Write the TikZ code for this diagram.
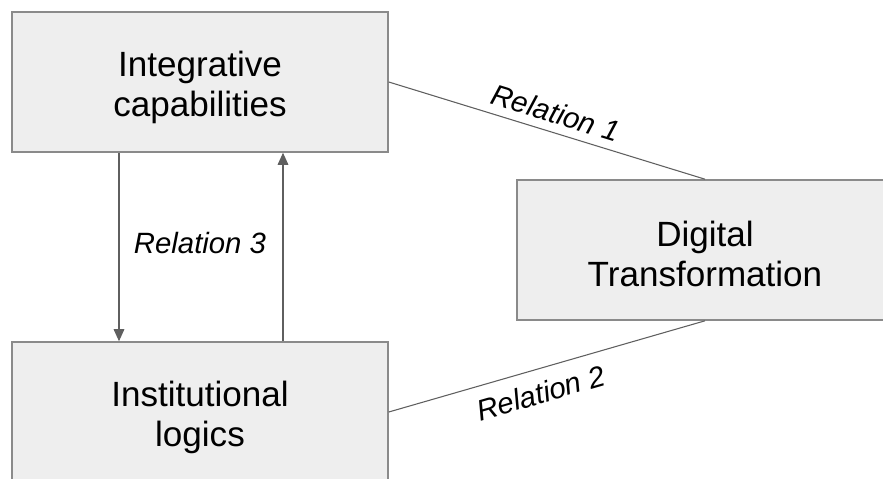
\documentclass[tikz,border=0pt]{standalone}
\usepackage{fontspec}
\setmainfont{Liberation Sans}
\usetikzlibrary{arrows.meta}

\definecolor{boxfill}{HTML}{EEEEEE}
\definecolor{boxline}{HTML}{8A8A8A}
\definecolor{linkgray}{HTML}{5F5F5F}

\tikzset{
	concept/.style={draw=boxline, line width=1.2pt, fill=boxfill, minimum width=282pt, minimum height=105pt, inner sep=0pt},
	ctext/.style={align=center, inner sep=0pt, font=\fontsize{26.3}{30}\selectfont},
	link/.style={draw=linkgray, line width=0.8pt},
	rel/.style={font=\fontsize{22}{24}\selectfont\itshape}
}

\begin{document}
\begin{tikzpicture}[x=0.75pt,y=-0.75pt]
	\clip (0,0) rectangle (883,479);
	
	%constructs
	\node[concept] (capab) at (200,82) {};
	\node[ctext] (capabtxt) at (200,87) {Integrative\\capabilities};
	\node[concept] (logics) at (200,412) {};
	\node[ctext] (logicstxt) at (200,417) {Institutional\\logics};
	\node[concept] (digital) at (705,250) {};
	\node[ctext] (digitaltxt) at (705,254) {Digital\\Transformation};
	
	%relation 1 and 2
	\draw[link] (capab.east) -- (digital.north) node[rel, pos=0.51, sloped, above=3pt] {Relation 1};
	\draw[link] (logics.east) -- (digital.south) node[rel, pos=0.46, sloped, below=6pt] {Relation 2};
	
	%relation 3 (both ways)
	\draw[link, -{Triangle[length=9pt,width=8pt]}] ([xshift=-60.75pt]capab.south) -- ([xshift=-60.75pt]logics.north);
	\draw[link, -{Triangle[length=9pt,width=8pt]}] ([xshift=62.25pt]logics.north) -- ([xshift=62.25pt]capab.south);
	\node[rel] (rthree) at (200,243) {Relation 3};
\end{tikzpicture}
\end{document}
